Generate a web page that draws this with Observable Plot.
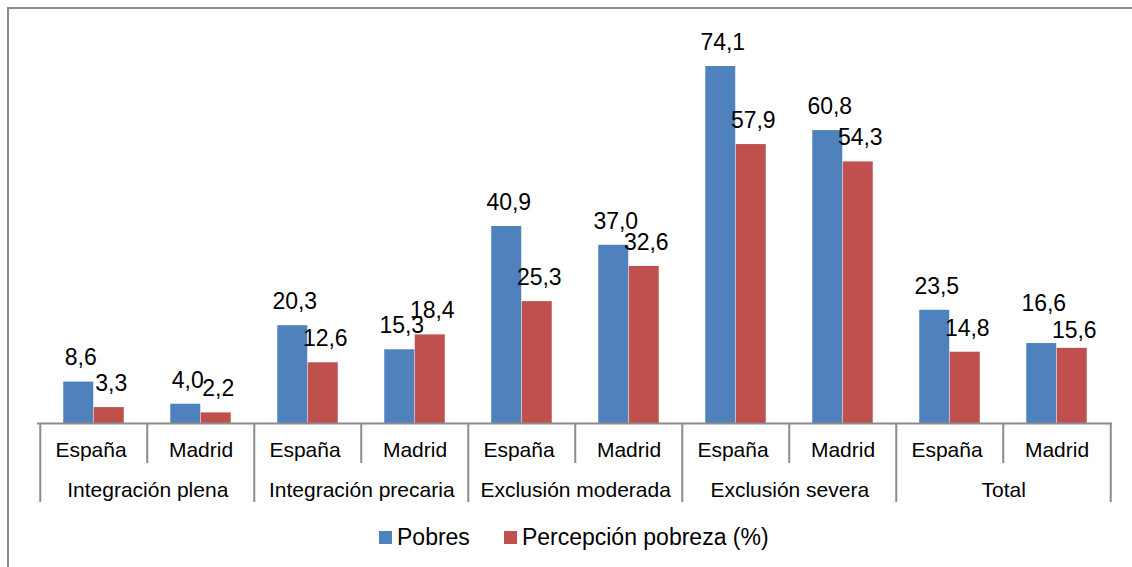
<!DOCTYPE html>
<html>
<head>
<meta charset="utf-8">
<script src="https://cdn.jsdelivr.net/npm/d3@7"></script>
<script src="https://cdn.jsdelivr.net/npm/@observablehq/plot@0.6"></script>
<style>
  html, body { margin: 0; padding: 0; background: #fff; }
  #wrap { position: relative; width: 1132px; height: 567px; overflow: hidden; font-family: "Liberation Sans", Arial, sans-serif; }
  #border { position: absolute; left: 7px; top: 7px; right: -4px; bottom: -4px; border-top: 2px solid #8a8a8a; border-left: 2px solid #8a8a8a; }
  #chart { position: absolute; left: 0; top: 0; }
  #legend { position: absolute; left: 379px; top: 524px; display: flex; align-items: center; font-size: 23px; color: #000; white-space: nowrap; }
  .sw { width: 13px; height: 13px; display: inline-block; margin-right: 5px; }
  .item { display: flex; align-items: center; margin-right: 34px; }
</style>
</head>
<body>
<div id="wrap">
  <div id="border"></div>
  <div id="chart"></div>
  <div id="legend"></div>
</div>
<script>
const groups = ["Integración plena", "Integración precaria", "Exclusión moderada", "Exclusión severa", "Total"];
const places = ["España", "Madrid"];
const seriesNames = ["Pobres", "Percepción pobreza (%)"];
const pobres = [8.6, 4.0, 20.3, 15.3, 40.9, 37.0, 74.1, 60.8, 23.5, 16.6];
const percepcion = [3.3, 2.2, 12.6, 18.4, 25.3, 32.6, 57.9, 54.3, 14.8, 15.6];
const colors = ["#4F81BD", "#C0504D"];

const W = 1132, H = 520, mL = 37, mR = 20, mT = 37.6, mB = 97;
const yMax = 80;
const bw = (W - mL - mR) / pobres.length;
const BAR = 30.5;
const axisColor = "#8c8c8c";
const LABEL_DY = -24, LABEL_H = 27;
const pxPerUnit = (H - mT - mB) / yMax;

const cats = groups.flatMap((g, gi) => places.map((p, pi) => {
  const a = pobres[gi * 2 + pi], b = percepcion[gi * 2 + pi];
  // simple label collision avoidance (like the spreadsheet's automatic placement)
  const gap = Math.abs(a - b) * pxPerUnit;
  let upA = 0, upB = 0;
  if (gap < 8) {
    const extra = LABEL_H - gap;
    if (a >= b) { upA = extra * 0.72; upB = -extra * 0.28; }
    else { upB = extra * 0.72; upA = -extra * 0.28; }
  }
  return { key: g + "|" + p, group: g, place: p, pobres: a, percep: b, upA, upB };
}));
const keys = cats.map(d => d.key);
const fmt = v => v.toFixed(1).replace(".", ",");

const chart = Plot.plot({
  width: W, height: H,
  marginLeft: mL, marginRight: mR, marginTop: mT, marginBottom: mB,
  style: { fontFamily: '"Liberation Sans", Arial, sans-serif', color: "#000", background: "transparent", overflow: "visible" },
  x: { axis: null, domain: keys, padding: 0 },
  y: { axis: null, domain: [0, yMax] },
  marks: [
    Plot.barY(cats, { x: "key", y: "pobres", fill: colors[0], insetLeft: bw / 2 - BAR, insetRight: bw / 2 }),
    Plot.barY(cats, { x: "key", y: "percep", fill: colors[1], insetLeft: bw / 2, insetRight: bw / 2 - BAR }),
    Plot.ruleY([0], { stroke: axisColor, strokeWidth: 2 }),
    Plot.ruleX(cats.filter(d => d.place === places[1]), { x: "key", y1: 0, y2: 0, insetBottom: -40, dx: -bw / 2, stroke: axisColor, strokeWidth: 2 }),
    Plot.ruleX(cats.filter(d => d.place === places[0]), { x: "key", y1: 0, y2: 0, insetBottom: -79, dx: -bw / 2, stroke: axisColor, strokeWidth: 2 }),
    Plot.ruleX([cats[cats.length - 1]], { x: "key", y1: 0, y2: 0, insetBottom: -79, dx: bw / 2, stroke: axisColor, strokeWidth: 2 }),
    ...cats.map(d => Plot.text([d], { x: "key", y: "pobres", text: d => fmt(d.pobres), dx: -BAR / 2 + 2, dy: LABEL_DY - d.upA, fontSize: 23 })),
    ...cats.map(d => Plot.text([d], { x: "key", y: "percep", text: d => fmt(d.percep), dx: BAR / 2 + 2, dy: LABEL_DY - d.upB, fontSize: 23 })),
    Plot.text(cats.filter(d => d.place === places[0]), { x: "key", text: "place", frameAnchor: "bottom", lineAnchor: "middle", dx: -3, dy: 27, fontSize: 21 }),
    Plot.text(cats.filter(d => d.place === places[1]), { x: "key", text: "place", frameAnchor: "bottom", lineAnchor: "middle", dy: 27, fontSize: 21 }),
    Plot.text(cats.filter(d => d.place === places[0]), { x: "key", text: "group", frameAnchor: "bottom", lineAnchor: "middle", dx: bw / 2, dy: 67, fontSize: 21 })
  ]
});
document.getElementById("chart").appendChild(chart);

const legend = document.getElementById("legend");
seriesNames.forEach((s, i) => {
  const item = document.createElement("span");
  item.className = "item";
  const sw = document.createElement("span");
  sw.className = "sw";
  sw.style.background = colors[i];
  item.appendChild(sw);
  item.appendChild(document.createTextNode(s));
  legend.appendChild(item);
});
</script>
</body>
</html>
